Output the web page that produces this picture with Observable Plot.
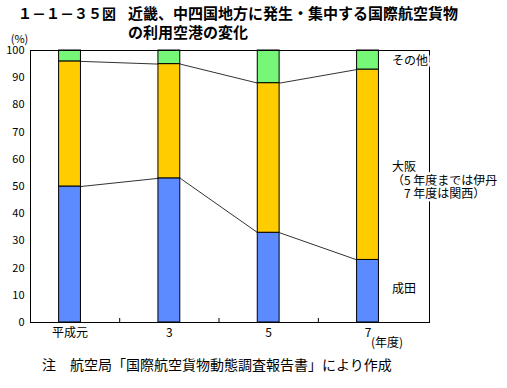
<!DOCTYPE html>
<html>
<head>
<meta charset="utf-8">
<script src="https://cdn.jsdelivr.net/npm/d3@7"></script>
<script src="https://cdn.jsdelivr.net/npm/@observablehq/plot@0.6"></script>
<style>
  body { margin: 0; background: white; }
  #wrap { position: relative; width: 507px; height: 388px; overflow: hidden; font-family: "Noto Sans CJK JP", sans-serif; }
  .t { position: absolute; white-space: nowrap; color: black; }
</style>
</head>
<body>
<div id="wrap">
  <div class="t" style="left:18px; top:3px; font-size:14px; font-weight:bold; line-height:20px;">１－１－３５図</div>
  <div class="t" style="left:128px; top:3px; font-size:15px; font-weight:bold; line-height:20px;">近畿、中四国地方に発生・集中する国際航空貨物</div>
  <div class="t" style="left:128px; top:22px; font-size:15px; font-weight:bold; line-height:20px;">の利用空港の変化</div>
  <div class="t" style="left:42px; top:354px; font-size:14px; line-height:20px;">注　航空局「国際航空貨物動態調査報告書」により作成</div>
</div>
<script>
// ---- data ----
const years = ["平成元", "3", "5", "7"];
const narita = [50, 53, 33, 23];
const osaka = [46, 42, 55, 70];
const other = [4, 5, 12, 7];
const seriesNames = ["成田", "大阪", "その他"];
const seriesLabels = ["成田", "大阪\n（5 年度までは伊丹\n　7 年度は関西）", "その他"];
const yTicks = [0, 10, 20, 30, 40, 50, 60, 70, 80, 90, 100];
const unitLabel = "(%)";
const yearUnit = "(年度)";

// ---- derived tables ----
const series = [narita, osaka, other];
const rows = [];
years.forEach((yr, i) => {
  let c = 0;
  series.forEach((vals, s) => {
    rows.push({ i, series: seriesNames[s], y1: c, y2: c + vals[i] });
    c += vals[i];
  });
});
const cumN = narita;
const cumO = narita.map((v, i) => v + osaka[i]);
const hw = 0.11;
const links = [];
[cumN, cumO].forEach(cum => {
  for (let k = 0; k < years.length - 1; k++) {
    links.push({ x1: k + hw, y1: cum[k], x2: k + 1 - hw, y2: cum[k + 1] });
  }
});
const labelRows = [
  { text: seriesLabels[2], y: 96.2 },
  { text: seriesLabels[1], y: 52.3 },
  { text: seriesLabels[0], y: 12.5 }
];

const chart = Plot.plot({
  width: 507,
  height: 388,
  marginLeft: 30,
  marginRight: 78,
  marginTop: 50,
  marginBottom: 66,
  style: { fontFamily: "'Noto Sans CJK JP', sans-serif", fontSize: "11px", background: "transparent", color: "black" },
  x: { domain: [-0.398, 3.619], axis: null },
  y: { domain: [0, 100], axis: null },
  color: { domain: seriesNames, range: ["#5b8bff", "#ffcc00", "#77f777"] },
  marks: [
    Plot.link(links, { x1: "x1", y1: "y1", x2: "x2", y2: "y2", stroke: "#333", strokeWidth: 1 }),
    Plot.rect(rows, { x1: d => d.i - hw, x2: d => d.i + hw, y1: "y1", y2: "y2", fill: "series", stroke: "black", strokeWidth: 1 }),
    Plot.axisY({ ticks: yTicks, tickSize: 0, tickPadding: 6, fontSize: 11 }),
    Plot.axisX({ ticks: [0.5, 1.5, 2.5], tickSize: -4, text: null }),
    Plot.axisX({ ticks: [0, 1, 2, 3], tickSize: 0, tickPadding: 6, tickFormat: i => years[i], fontSize: 12 }),
    Plot.frame({ stroke: "black", strokeWidth: 1 }),
    Plot.text([unitLabel], { frameAnchor: "top-left", dx: -11, dy: -15, fontSize: 11, textAnchor: "middle" }),
    Plot.text([yearUnit], { x: () => years.length - 1, y: () => 0, dx: 3, dy: 21, fontSize: 12, textAnchor: "start" }),
    Plot.text(labelRows, { x: () => years.length - 1, y: "y", text: "text", dx: 24, fontSize: 12, textAnchor: "start", lineHeight: 1.12, stroke: "white", strokeWidth: 5, fill: "black" })
  ]
});
chart.style.position = "absolute";
chart.style.left = "0px";
chart.style.top = "0px";
document.getElementById("wrap").appendChild(chart);
</script>
</body>
</html>
